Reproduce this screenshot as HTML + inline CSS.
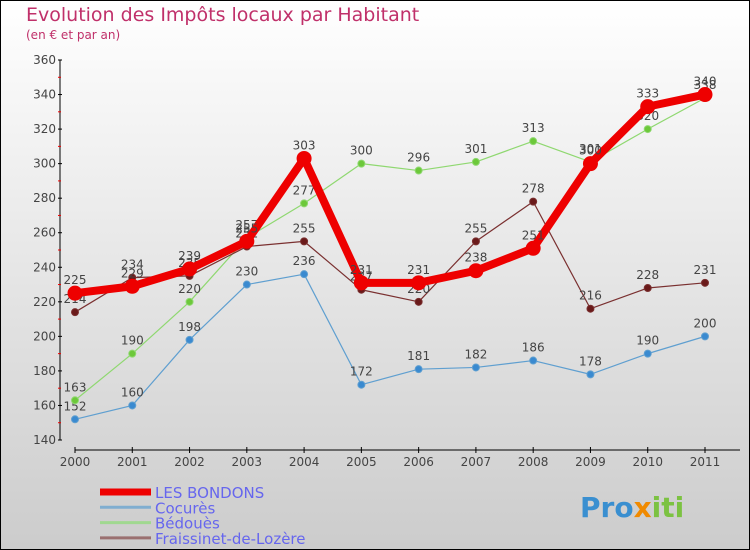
<!DOCTYPE html>
<html><head><meta charset="utf-8"><style>
body{margin:0}
svg{display:block;font-family:"DejaVu Sans","Liberation Sans",sans-serif}
</style></head><body>
<svg id="c" width="750" height="550" xmlns="http://www.w3.org/2000/svg">
<defs><linearGradient id="bg" x1="0" y1="0" x2="0" y2="1"><stop offset="0" stop-color="#ffffff"/><stop offset="1" stop-color="#cccccc"/></linearGradient></defs>
<rect x="0.5" y="0.5" width="749" height="549" fill="url(#bg)" stroke="#000"/>
<text x="26" y="21" font-size="19" fill="#c0306a">Evolution des Impôts locaux par Habitant</text>
<text x="26" y="39" font-size="12" fill="#c0306a">(en € et par an)</text>
<g id="axes"></g><g id="series"></g><g id="legend"></g>
<text x="580" y="517" font-size="28" font-weight="bold" fill="#3a8fd0">Pro<tspan fill="#f08a00">x</tspan><tspan fill="#7cc242">iti</tspan></text>
</svg>
<script>
const years=["2000","2001","2002","2003","2004","2005","2006","2007","2008","2009","2010","2011"];
const yTicks=[140,160,180,200,220,240,260,280,300,320,340,360];
const bondons=[225,229,239,255,303,231,231,238,251,300,333,340];
const cocures=[152,160,198,230,236,172,181,182,186,178,190,200];
const bedoues=[163,190,220,257,277,300,296,301,313,301,320,338];
const fraissinet=[214,234,235,252,255,227,220,255,278,216,228,231];
const NS="http://www.w3.org/2000/svg";
const X=i=>75+i*(630/11);
const Y=v=>440-(v-140)*(380/220);
function mk(p,t,a){const e=document.createElementNS(NS,t);for(const k in a)e.setAttribute(k,a[k]);p.appendChild(e);return e;}
const ax=document.getElementById('axes');
let e=mk(ax,'line',{x1:60,y1:60,x2:60,y2:440,stroke:'#000'});


e=mk(ax,'line',{x1:75,y1:450,x2:740,y2:450,stroke:'#000'});


yTicks.forEach((t,i)=>{
 mk(ax,'line',{x1:58,x2:62,y1:Y(t),y2:Y(t),stroke:'#000'});
 if(i<yTicks.length-1)mk(ax,'line',{x1:58,x2:61,y1:Y(t+10),y2:Y(t+10),stroke:'#e00'});
 const l=mk(ax,'text',{x:56,y:Y(t)+4,'font-size':12,'text-anchor':'end',fill:'#444'});l.textContent=t;
 
 
});
years.forEach((y,i)=>{
 mk(ax,'line',{x1:X(i),x2:X(i),y1:447,y2:453,stroke:'#000'});
 const l=mk(ax,'text',{x:X(i),y:466,'font-size':12,'text-anchor':'middle',fill:'#444'});l.textContent=y;
 
 
});
const sg=document.getElementById('series');
function series(d,name,color,dot,w,r){
 const g=mk(sg,'g',{});
 
 
 const pl=mk(g,'polyline',{points:d.map((v,i)=>X(i)+','+Y(v)).join(' '),fill:'none',stroke:color,'stroke-width':w,'stroke-linejoin':'round'});
 
 
 d.forEach((v,i)=>{
  const c=mk(g,'circle',{cx:X(i),cy:Y(v),r:r,fill:dot,stroke:color,'stroke-width':1});
  
  
  const t=mk(g,'text',{x:X(i),y:Y(v)-9,'font-size':12,'text-anchor':'middle',fill:'#444'});t.textContent=v;
  
  
 });
}
series(cocures,'cocures','#5f9fd0','#3a8ad0',1.2,3.5);
series(bedoues,'bedoues','#8fd870','#6cc83a',1.2,3.5);
series(fraissinet,'fraissinet','#7a3030','#6a1a1a',1.2,3.5);
series(bondons,'les-bondons','#ee0000','#ee0000',8,7);
const lg=document.getElementById('legend');
const items=[["LES BONDONS","#ee0000",7],["Cocurès","#80aed0",3],["Bédouès","#a0d890",3],["Fraissinet-de-Lozère","#9a7070",3]];
items.forEach((it,i)=>{
 const y=492+i*15.3;
 const g=mk(lg,'g',{});
 
 
 mk(g,'line',{x1:100,x2:151,y1:y,y2:y,stroke:it[1],'stroke-width':it[2]});
 const t=mk(g,'text',{x:155,y:y+6,'font-size':15,fill:'#6666ee'});t.textContent=it[0];
});
</script>
</body></html>
